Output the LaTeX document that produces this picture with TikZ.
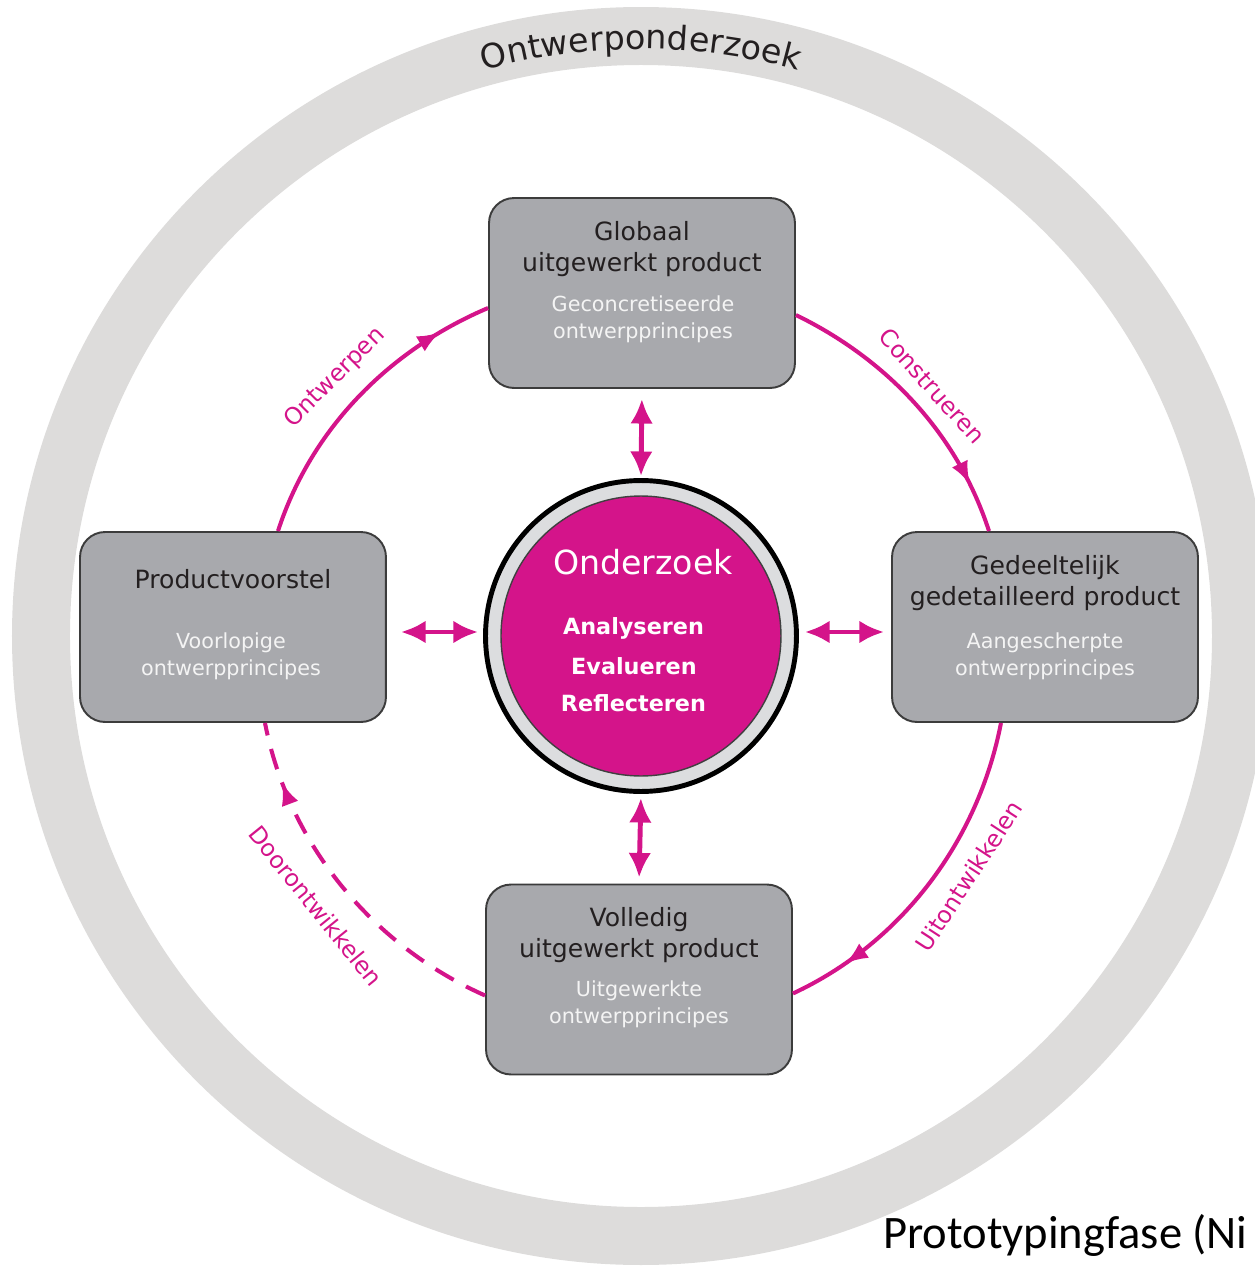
\documentclass[tikz,border=0pt]{standalone}
\usepackage{fontspec}
\setmainfont{DejaVu Sans}
\newfontfamily\captionfont{Carlito}
\usetikzlibrary{arrows.meta,calc,decorations.markings,decorations.text}
\newcommand\ringfont{\fontsize{19}{22}\selectfont}

\begin{document}
\begin{tikzpicture}[x=0.02cm, y=0.02cm,
  every node/.style={align=center, inner sep=0pt},
  phase/.style={draw=boxline, line width=1.1pt, fill=boxgrey, rounded corners=0.5cm,
    minimum width=6.12cm, minimum height=3.8cm},
  phasetitle/.style={text=inktext, font=\fontsize{14.3}{17.6}\selectfont},
  phasesub/.style={text=subwhite, font=\fontsize{11.8}{15.3}\selectfont},
  flow/.style={loopmagenta, line width=2.3pt, looseness=0.9, postaction={decorate},
    decoration={markings, mark=at position 0.83 with {\arrow{Latex[length=13pt,width=10pt]}}}},
  flowlabel/.style={text=loopmagenta, font=\fontsize{13.4}{16}\selectfont},
  link/.style={loopmagenta, line width=2.8pt, {Latex[length=14pt,width=13pt]}-{Latex[length=14pt,width=13pt]}},
  verb/.style={text=white, font=\bfseries\fontsize{12.7}{15}\selectfont, anchor=base}]
  % Define colors
  \definecolor{ringgrey}{HTML}{DDDCDB}
  \definecolor{boxgrey}{HTML}{A8A9AD}
  \definecolor{boxline}{HTML}{3C3C3C}
  \definecolor{loopmagenta}{HTML}{D4148A}
  \definecolor{coregrey}{HTML}{DCDDDF}
  \definecolor{subwhite}{HTML}{F4F4F4}
  \definecolor{inktext}{HTML}{231F20}

  \useasboundingbox (-641,-633) rectangle (614,636);

  % Outer ring
  \draw[ringgrey, line width=1.16cm] (0,0) circle (600);
  \path[decorate, decoration={text along path, text align=center, text color=inktext,
    text={|\ringfont|Ontwerponderzoek}}] (140:587) arc[start angle=140, end angle=40, radius=587];

  % Phase boxes
  \node[phase] (globaal) at (1,343) {};
  \node[phase] (voorstel) at (-408,9) {};
  \node[phase] (gedeeltelijk) at (404,9) {};
  \node[phase] (volledig) at (-2,-343.5) {};

  \node[phasetitle] (globaal-t) at (1,387) {Globaal\\uitgewerkt product};
  \node[phasesub] (globaal-s) at (2,317) {Geconcretiseerde\\ontwerpprincipes};
  \node[phasetitle] (voorstel-t) at (-408,56.5) {Productvoorstel};
  \node[phasesub] (voorstel-s) at (-410,-20) {Voorlopige\\ontwerpprincipes};
  \node[phasetitle] (gedeeltelijk-t) at (404,52.5) {Gedeeltelijk\\gedetailleerd product};
  \node[phasesub] (gedeeltelijk-s) at (404,-20) {Aangescherpte\\ontwerpprincipes};
  \node[phasetitle] (volledig-t) at (-2,-299.5) {Volledig\\uitgewerkt product};
  \node[phasesub] (volledig-s) at (-2,-368.5) {Uitgewerkte\\ontwerpprincipes};

  % Cycle between the phases
  \draw[flow] ($(voorstel.north)+(45,0)$) to[out=72, in=203] ($(globaal.west)+(0,-15)$);
  \draw[flow] ($(globaal.east)+(0,-22)$) to[out=-26, in=108] ($(gedeeltelijk.north)+(-56,0)$);
  \draw[flow] ($(gedeeltelijk.south)+(-44,0)$) to[out=-101, in=25] ($(volledig.east)+(0,-14)$);
  \draw[flow, dash pattern=on 12pt off 8pt] ($(volledig.west)+(0,-16)$) to[out=156, in=-79] ($(voorstel.south)+(32,0)$);

  \node[flowlabel, rotate=45] (ontwerpen) at (-306,258) {Ontwerpen};
  \node[flowlabel, rotate=-48] (construeren) at (291,250) {Construeren};
  \node[flowlabel, rotate=57] (uitontwikkelen) at (328,-240) {Uitontwikkelen};
  \node[flowlabel, rotate=-51] (doorontwikkelen) at (-325,-270) {Doorontwikkelen};

  % Research core
  \node[circle, draw=black, line width=2.8pt, fill=coregrey, minimum size=6.22cm] (onderzoek) at (0,0) {};
  \node[circle, draw=black!75, line width=0.8pt, fill=loopmagenta, minimum size=5.6cm] (kern) at (onderzoek) {};
  \node[text=white, font=\fontsize{18.9}{22}\selectfont, anchor=base] (onderzoek-t) at (2,62) {Onderzoek};
  \node[verb] (analyseren) at (-7.5,2) {Analyseren};
  \node[verb] (evalueren) at (-7,-38) {Evalueren};
  \node[verb] (reflecteren) at (-7.5,-75) {Reflecteren};

  % Links between core and phases
  \draw[link, shorten <=0.2cm, shorten >=0.04cm] (globaal.south) -- (onderzoek.north);
  \draw[link, shorten <=0.08cm, shorten >=0.12cm] (onderzoek.south) -- (volledig.north);
  \draw[link, shorten <=0.28cm, shorten >=0.1cm] ($(voorstel.east)+(0,-5)$) -- ($(onderzoek.west)+(0,4)$);
  \draw[link, shorten <=0.12cm, shorten >=0.14cm] ($(onderzoek.east)+(0,4)$) -- ($(gedeeltelijk.west)+(0,-5)$);

  % Caption
  \node[font=\captionfont\fontsize{26.5}{30}\selectfont, anchor=base west] (caption) at (242,-612) {Prototypingfase (Ni};
\end{tikzpicture}
\end{document}
